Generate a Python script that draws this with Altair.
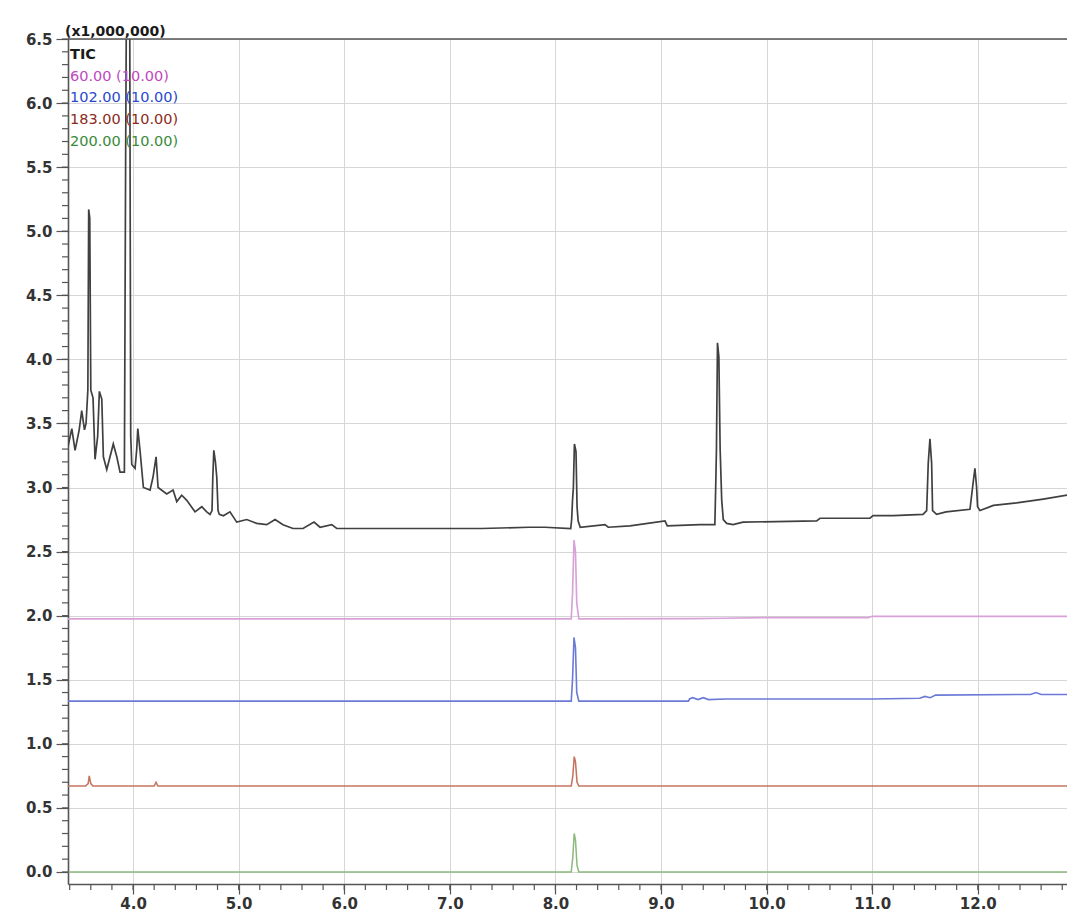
import altair as alt
import pandas as pd

# ---------------- data (retention time in min, intensity x1,000,000) ----------------
tic_t = [3.384, 3.420, 3.451, 3.490, 3.514, 3.540, 3.555, 3.572, 3.580, 3.590, 3.600,
         3.621, 3.640, 3.665, 3.681, 3.704, 3.719, 3.751, 3.813, 3.846, 3.877, 3.918,
         3.930, 3.938, 3.968, 3.978, 3.988, 4.019, 4.035, 4.045, 4.066, 4.098, 4.161,
         4.189, 4.218, 4.237, 4.319, 4.379, 4.414, 4.461, 4.509, 4.587, 4.651, 4.698,
         4.729, 4.748, 4.755, 4.765, 4.780, 4.793, 4.805, 4.817, 4.855, 4.918, 4.982,
         5.077, 5.171, 5.266, 5.345, 5.420, 5.515, 5.610, 5.714, 5.771, 5.882, 5.929,
         6.300, 6.800, 7.300, 7.750, 7.900, 8.145, 8.154, 8.162, 8.170, 8.180, 8.195,
         8.205, 8.215, 8.235, 8.470, 8.500, 8.706, 9.038, 9.060, 9.369, 9.510, 9.518,
         9.525, 9.535, 9.548, 9.560, 9.575, 9.590, 9.622, 9.682, 9.777, 10.474, 10.506,
         10.979, 11.008, 11.200, 11.481, 11.516, 11.531, 11.547, 11.563, 11.572, 11.610,
         11.700, 11.926, 11.955, 11.973, 11.989, 11.998, 12.021, 12.148, 12.368, 12.620,
         12.920]
tic_y = [3.32, 3.46, 3.29, 3.45, 3.60, 3.45, 3.50, 3.76, 5.17, 5.10, 3.76,
         3.70, 3.22, 3.40, 3.75, 3.69, 3.24, 3.14, 3.34, 3.24, 3.12, 3.12,
         5.60, 6.90, 6.90, 3.40, 3.18, 3.15, 3.30, 3.46, 3.29, 3.00, 2.98,
         3.08, 3.24, 3.00, 2.95, 2.98, 2.89, 2.94, 2.90, 2.81, 2.85, 2.81,
         2.79, 2.82, 3.07, 3.29, 3.20, 3.08, 2.82, 2.79, 2.78, 2.81, 2.73,
         2.75, 2.72, 2.71, 2.75, 2.71, 2.68, 2.68, 2.73, 2.69, 2.71, 2.68,
         2.68, 2.68, 2.68, 2.69, 2.69, 2.68, 2.75, 2.90, 3.00, 3.34, 3.28,
         2.85, 2.74, 2.69, 2.71, 2.69, 2.70, 2.74, 2.70, 2.71, 2.71, 3.00,
         3.29, 4.13, 4.02, 3.30, 2.90, 2.75, 2.72, 2.71, 2.73, 2.74, 2.76,
         2.76, 2.78, 2.78, 2.79, 2.82, 3.19, 3.38, 3.19, 2.82, 2.79,
         2.81, 2.83, 3.03, 3.15, 3.00, 2.85, 2.82, 2.86, 2.88, 2.91,
         2.95]

m60_t = [3.384, 8.150, 8.162, 8.176, 8.190, 8.202, 8.222, 9.300, 9.600, 9.950, 10.960, 11.000, 12.920]
m60_y = [1.975, 1.975, 2.170, 2.590, 2.500, 2.100, 1.975, 1.977, 1.980, 1.985, 1.985, 1.995, 1.995]

m102_t = [3.384, 8.150, 8.162, 8.176, 8.190, 8.202, 8.222, 9.260, 9.270, 9.300, 9.350, 9.400,
          9.450, 9.610, 10.500, 11.000, 11.450, 11.500, 11.550, 11.600, 12.500, 12.550, 12.600, 12.920]
m102_y = [1.333, 1.333, 1.500, 1.830, 1.750, 1.400, 1.333, 1.333, 1.350, 1.360, 1.345, 1.360,
          1.345, 1.350, 1.350, 1.350, 1.355, 1.370, 1.360, 1.380, 1.385, 1.400, 1.385, 1.385]

m183_t = [3.384, 3.550, 3.575, 3.585, 3.600, 3.620, 4.200, 4.218, 4.235, 8.150, 8.165, 8.178,
          8.190, 8.205, 8.222, 12.920]
m183_y = [0.67, 0.67, 0.69, 0.75, 0.69, 0.67, 0.67, 0.70, 0.67, 0.67, 0.75, 0.90,
          0.86, 0.70, 0.67, 0.67]

m200_t = [3.384, 8.150, 8.165, 8.178, 8.190, 8.205, 8.222, 12.920]
m200_y = [0.00, 0.00, 0.12, 0.30, 0.25, 0.05, 0.00, 0.00]

series_names = ["TIC", "60.00", "102.00", "183.00", "200.00"]
legend_texts = ["TIC", "60.00 (10.00)", "102.00 (10.00)", "183.00 (10.00)", "200.00 (10.00)"]
line_colors = ["#404040", "#d8a2d8", "#6b7ad6", "#c47560", "#8db97d"]
text_colors = ["#1a1a1a", "#c048c0", "#2a48d0", "#8c2a20", "#3a8a3a"]
line_widths = [1.7, 1.5, 1.5, 1.5, 1.5]

major_x = [4.0, 5.0, 6.0, 7.0, 8.0, 9.0, 10.0, 11.0, 12.0]
minor_x = [round(3.4 + 0.2 * i, 1) for i in range(48)]
major_y = [round(0.5 * i, 1) for i in range(14)]
minor_y = [round(0.1 * i, 1) for i in range(66)]

# ---------------- build table ----------------
rows = []
for name, ts, ys in zip(series_names,
                        [tic_t, m60_t, m102_t, m183_t, m200_t],
                        [tic_y, m60_y, m102_y, m183_y, m200_y]):
    for i, (t, y) in enumerate(zip(ts, ys)):
        rows.append({"series": name, "t": t, "y": y, "i": i})
df = pd.DataFrame(rows)

W, H = 999, 845
x_scale = alt.Scale(domain=[3.384, 12.845], nice=False, zero=False)
y_scale = alt.Scale(domain=[-0.094, 6.5], nice=False, zero=False)

axis_common = dict(domainColor="#555555", domainWidth=1.6, tickColor="#555555",
                   tickWidth=1.2, labelFont="DejaVu Sans", labelFontWeight="bold",
                   labelFontSize=15, labelColor="#333333", gridColor="#d6d6d6",
                   gridWidth=1, title=None)

lines = alt.Chart(df).mark_line(clip=True).encode(
    x=alt.X("t:Q", scale=x_scale,
            axis=alt.Axis(values=major_x, format=".1f", tickSize=10, labelPadding=2,
                          grid=True, orient="bottom", **axis_common)),
    y=alt.Y("y:Q", scale=y_scale,
            axis=alt.Axis(values=major_y, format=".1f", tickSize=12, labelPadding=4,
                          grid=True, orient="left", **axis_common)),
    color=alt.Color("series:N", scale=alt.Scale(domain=series_names, range=line_colors), legend=None),
    strokeWidth=alt.StrokeWidth("series:N", scale=alt.Scale(domain=series_names, range=line_widths), legend=None),
    order="i:Q",
    detail="series:N",
)

minor_xt = alt.Chart(pd.DataFrame({"v": minor_x})).mark_rule(color="#555555", strokeWidth=1.2).encode(
    x=alt.X("v:Q", scale=x_scale),
    y=alt.value(H),
    y2=alt.value(H + 6),
)
minor_yt = alt.Chart(pd.DataFrame({"v": minor_y})).mark_rule(color="#555555", strokeWidth=1.2).encode(
    y=alt.Y("v:Q", scale=y_scale),
    x=alt.value(-6),
    x2=alt.value(1),
)

top_rule = alt.Chart(pd.DataFrame({"v": [6.5]})).mark_rule(color="#555555", strokeWidth=1.5).encode(
    y=alt.Y("v:Q", scale=y_scale)
)

texts = []
texts.append(alt.Chart(pd.DataFrame({"s": ["(x1,000,000)"]})).mark_text(
    align="left", baseline="middle", font="DejaVu Sans", fontSize=14, fontWeight="bold",
    color="#1a1a1a").encode(text="s:N", x=alt.value(-3), y=alt.value(-7)))
for k, (lab, col) in enumerate(zip(legend_texts, text_colors)):
    texts.append(alt.Chart(pd.DataFrame({"s": [lab]})).mark_text(
        align="left", baseline="middle", font="DejaVu Sans", fontSize=14.5,
        fontWeight="bold" if k == 0 else "normal", color=col
    ).encode(text="s:N", x=alt.value(2), y=alt.value(16 + 21.7 * k)))

chart = alt.layer(lines, minor_xt, minor_yt, top_rule, *texts).properties(
    width=W, height=H,
    padding={"left": 60, "top": 31, "right": 0, "bottom": 29},
    autosize="none",
    background="white",
).configure_view(strokeWidth=0)

chart.save("out.html", embed_options={"renderer": "svg", "actions": False})
